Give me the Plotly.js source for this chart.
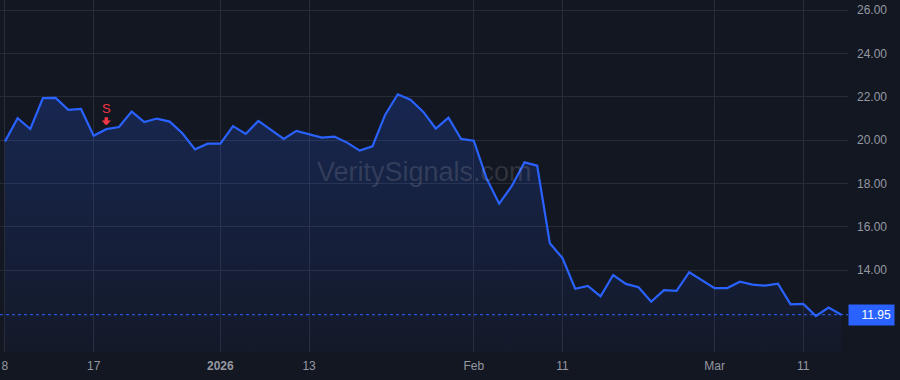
<!DOCTYPE html>
<html>
<head>
<meta charset="utf-8">
<script src="https://cdn.plot.ly/plotly-3.0.1.min.js"></script>
<style>
  html, body { margin: 0; padding: 0; background: #131722; }
  #chart { width: 900px; height: 380px; }
</style>
</head>
<body>
<div id="chart"></div>
<script>
const dates = [
  '2025-12-08','2025-12-09','2025-12-10','2025-12-11','2025-12-12','2025-12-15','2025-12-16','2025-12-17','2025-12-18','2025-12-19',
  '2025-12-22','2025-12-23','2025-12-24','2025-12-26','2025-12-29','2025-12-30','2025-12-31',
  '2026-01-02','2026-01-05','2026-01-06','2026-01-07','2026-01-08','2026-01-09','2026-01-12','2026-01-13','2026-01-14','2026-01-15',
  '2026-01-16','2026-01-20','2026-01-21','2026-01-22','2026-01-23','2026-01-26','2026-01-27','2026-01-28','2026-01-29','2026-01-30',
  '2026-02-02','2026-02-03','2026-02-04','2026-02-05','2026-02-06','2026-02-09','2026-02-10','2026-02-11','2026-02-12','2026-02-13',
  '2026-02-17','2026-02-18','2026-02-19','2026-02-20','2026-02-23','2026-02-24','2026-02-25','2026-02-26','2026-02-27',
  '2026-03-02','2026-03-03','2026-03-04','2026-03-05','2026-03-06','2026-03-09','2026-03-10','2026-03-11','2026-03-12','2026-03-13','2026-03-16'
];
const prices = [
  19.94, 21.02, 20.52, 21.94, 21.95, 21.40, 21.44, 20.21, 20.51, 20.61,
  21.32, 20.84, 21.00, 20.86, 20.32, 19.58, 19.84,
  19.84, 20.65, 20.29, 20.89, 20.48, 20.06, 20.43, 20.29, 20.12, 20.17,
  19.89, 19.52, 19.72, 21.17, 22.12, 21.87, 21.32, 20.54, 21.04, 20.06,
  19.98, 18.25, 17.07, 17.89, 18.98, 18.83, 15.25, 14.56, 13.15, 13.28,
  12.80, 13.78, 13.37, 13.22, 12.55, 13.08, 13.05, 13.91, 13.53,
  13.18, 13.18, 13.47, 13.34, 13.29, 13.38, 12.43, 12.45, 11.89, 12.28, 11.95
];
const tickDates = ['2025-12-08','2025-12-17','2026-01-02','2026-01-13','2026-02-02','2026-02-11','2026-03-02','2026-03-11'];
const tickLabels = ['8','17','<b>2026</b>','13','Feb','11','Mar','11'];
const yTicks = [14, 16, 18, 20, 22, 24, 26];
const signalDates = ['2025-12-18'];
const signalLabels = ['S'];
const watermark = 'VeritySignals.com';

const lastPrice = prices[prices.length - 1];
const blue = '#2962ff';
const red = '#f23645';
const fontFam = 'Liberation Sans, Arial, sans-serif';

const trace = {
  x: dates, y: prices, type: 'scatter', mode: 'lines',
  line: { color: blue, width: 2.2 },
  fill: 'tozeroy',
  fillgradient: {
    type: 'vertical',
    start: 10.2, stop: 26.5,
    colorscale: [[0, 'rgba(41,98,255,0.03)'], [1, 'rgba(41,98,255,0.28)']]
  },
  hoverinfo: 'skip'
};

const annotations = [];
signalDates.forEach((d, k) => {
  const i = dates.indexOf(d);
  annotations.push({
    x: d, y: prices[i], xref: 'x', yref: 'y',
    text: signalLabels[k], showarrow: true,
    ax: 0, ay: -21, arrowcolor: red, arrowwidth: 3.5, arrowhead: 1, arrowsize: 0.45, standoff: 4,
    font: { family: fontFam, size: 13, color: red }
  });
});
annotations.push({
  xref: 'paper', yref: 'y', x: 1, y: lastPrice, xanchor: 'left', yanchor: 'middle',
  text: lastPrice.toFixed(2), showarrow: false,
  bgcolor: blue, borderpad: 3, width: 39, align: 'right',
  font: { family: fontFam, size: 12, color: '#ffffff' }
});
annotations.push({
  xref: 'paper', yref: 'paper', x: 0.5, y: 0.51, xanchor: 'center', yanchor: 'middle',
  text: watermark, showarrow: false,
  font: { family: fontFam, size: 27, color: 'rgba(255,255,255,0.13)' }
});

const layout = {
  width: 900, height: 380,
  margin: { l: 0, r: 52, t: 0, b: 28 },
  paper_bgcolor: '#131722', plot_bgcolor: '#131722',
  showlegend: false,
  xaxis: {
    type: 'category', range: [-0.39, 66.53],
    tickvals: tickDates, ticktext: tickLabels,
    showgrid: true, gridcolor: '#282c37', gridwidth: 1,
    zeroline: false, showline: false, ticks: '', ticklabelstandoff: 5,
    tickfont: { family: fontFam, size: 12, color: '#9598a1' },
    fixedrange: true
  },
  yaxis: {
    side: 'right', range: [10.23, 26.47],
    tickvals: yTicks, tickformat: '.2f',
    showgrid: true, gridcolor: '#282c37', gridwidth: 1,
    zeroline: false, showline: false, ticks: '', ticklabelstandoff: 8,
    tickfont: { family: fontFam, size: 12, color: '#9598a1' },
    fixedrange: true
  },
  shapes: [{
    type: 'line', xref: 'paper', yref: 'y', x0: 0, x1: 1, y0: lastPrice, y1: lastPrice,
    line: { color: blue, width: 1, dash: 'dot' }
  }],
  annotations: annotations
};

Plotly.newPlot('chart', [trace], layout, { displayModeBar: false, staticPlot: true });
</script>
</body>
</html>
